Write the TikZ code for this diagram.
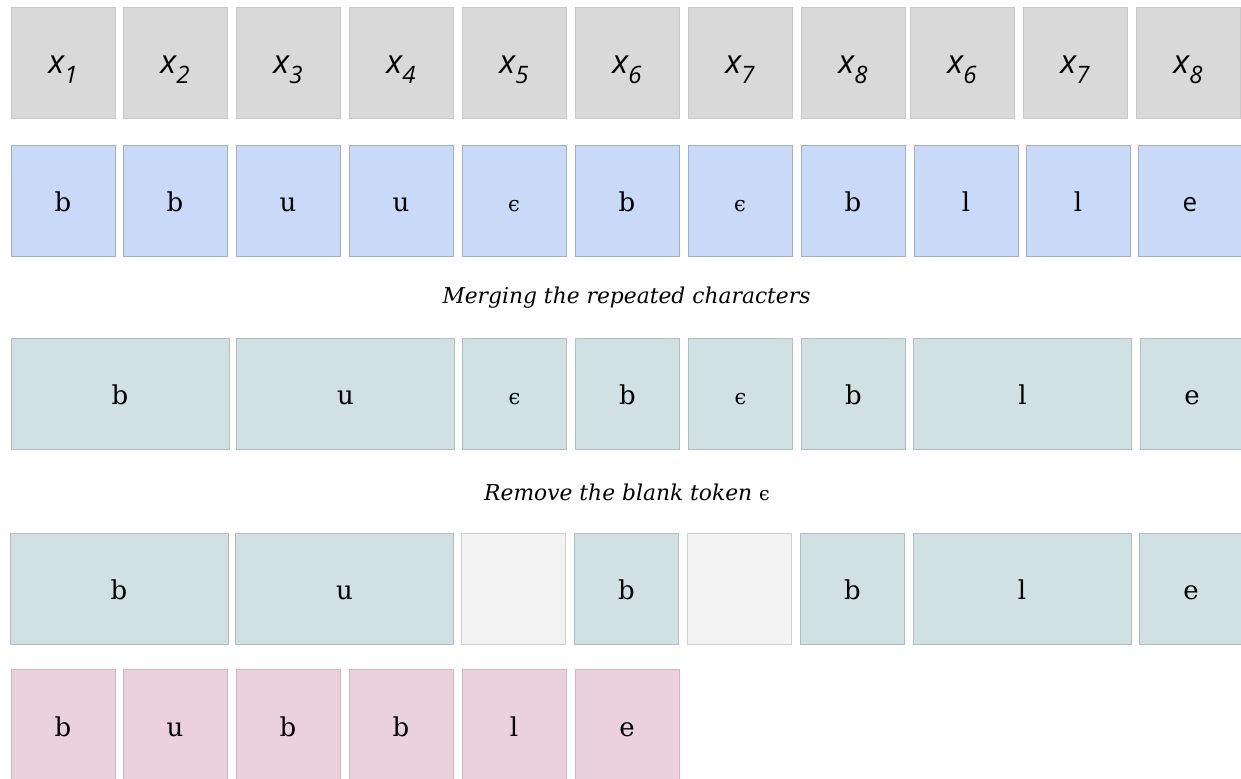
\documentclass[tikz,border=0pt]{standalone}
\usepackage{fontspec}
\setmainfont{DejaVu Serif}
\newfontfamily\labelfont{Open Sans}

\definecolor{inputgray}{HTML}{D9D9D9}
\definecolor{predblue}{HTML}{C9DAF8}
\definecolor{mergeteal}{HTML}{D0E0E3}
\definecolor{blankgray}{HTML}{F3F3F3}
\definecolor{outpink}{HTML}{EAD1DC}

\newcommand{\xsub}[1]{{\labelfont\itshape x\raisebox{-5pt}{\fontsize{12}{12}\selectfont #1}}}
\newcommand{\blanktok}{{\fontsize{10.5}{10.5}\selectfont ϵ}}

\begin{document}
\begin{tikzpicture}[x=0.5pt, y=-0.5pt]
    \tikzstyle{cell} = [rectangle, draw, line width=0.3pt, minimum width=52pt, minimum height=55.5pt,
                        inner sep=0pt, text height=11.5pt, text depth=0pt, font=\fontsize{13}{13}\selectfont]
    \tikzstyle{wide} = [cell, minimum width=109pt]
    \tikzstyle{input} = [cell, fill=inputgray, draw=inputgray!92!black, font=\fontsize{16.5}{16.5}\selectfont]
    \tikzstyle{pred} = [cell, fill=predblue, draw=predblue!80!black]
    \tikzstyle{merged} = [fill=mergeteal, draw=mergeteal!85!black]
    \tikzstyle{gone} = [cell, fill=blankgray, draw=blankgray!85!black]
    \tikzstyle{output} = [cell, fill=outpink, draw=outpink!88!black]
    \tikzstyle{caption} = [font=\fontsize{10.9}{10.9}\selectfont\itshape]
    \useasboundingbox (0,0) rectangle (1241,779);

    % inputs and per-frame predictions
    \foreach \cx/\lab [count=\i] in {63/1,175/2,288/3,401/4,514/5,627/6,740/7,853/8,962/6,1075/7,1188/8}
        \node[input] (x\i) at (\cx,62.5) {\xsub{\lab}};
    \foreach \cx/\lab [count=\i] in {63/b,175/b,288/u,401/u,514/\blanktok,627/b,740/\blanktok,853/b,966/l,1078/l,1190/{\labelfont e}}
        \node[pred] (p\i) at (\cx,200.5) {\lab};

    \node[caption] (merge) at (626.5,298) {Merging the repeated characters};

    \node[wide, merged] (m1) at (120,393.5) {b};
    \node[wide, merged] (m2) at (345.5,393.5) {u};
    \node[cell, merged] (m3) at (514.5,393.5) {\blanktok};
    \node[cell, merged] (m4) at (627.5,393.5) {b};
    \node[cell, merged] (m5) at (740.5,393.5) {\blanktok};
    \node[cell, merged] (m6) at (853.5,393.5) {b};
    \node[wide, merged] (m7) at (1022.5,393.5) {l};
    \node[cell, merged] (m8) at (1192,393.5) {e};

    \node[caption] (remove) at (627,492) {Remove the blank token {\upshape\fontsize{9.5}{9.5}\selectfont ϵ}};

    \node[wide, merged] (r1) at (119,588.5) {b};
    \node[wide, merged] (r2) at (344.5,588.5) {u};
    \node[gone] (r3) at (513.5,588.5) {};
    \node[cell, merged] (r4) at (626.5,588.5) {b};
    \node[gone] (r5) at (739.5,588.5) {};
    \node[cell, merged] (r6) at (852.5,588.5) {b};
    \node[wide, merged] (r7) at (1022,588.5) {l};
    \node[cell, merged] (r8) at (1191,588.5) {e};

    % collapsed output
    \foreach \cx/\lab [count=\i] in {63/b,175/u,288/b,401/b,514/l,627/e}
        \node[output] (o\i) at (\cx,724.5) {\lab};
\end{tikzpicture}
\end{document}
